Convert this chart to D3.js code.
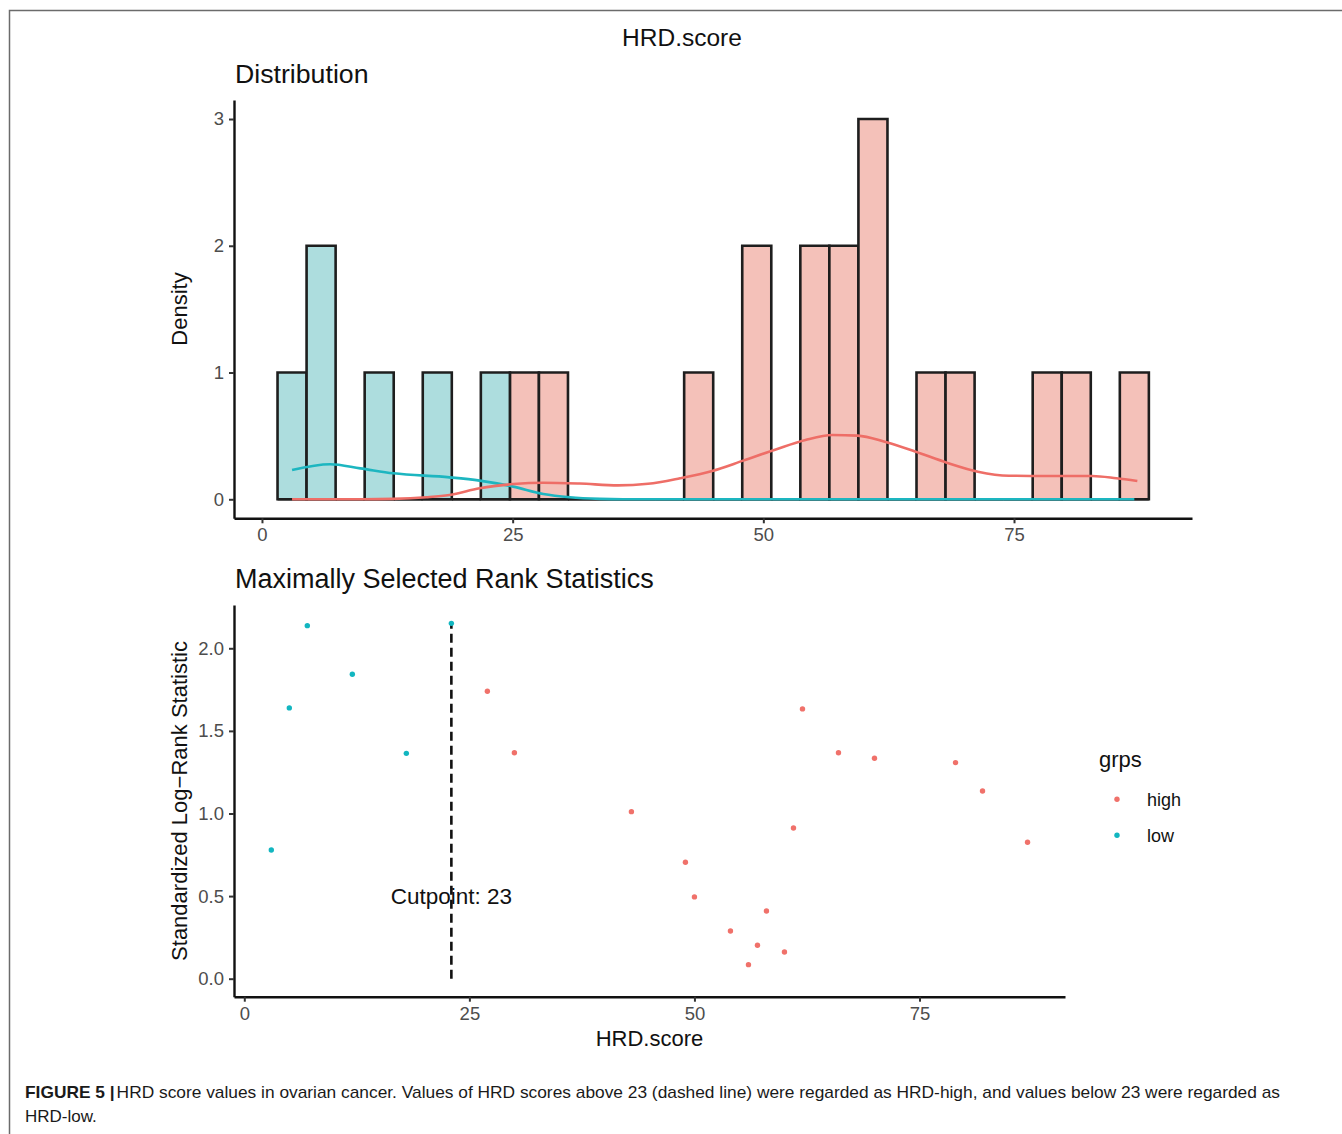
<!DOCTYPE html>
<html>
<head>
<meta charset="utf-8">
<script src="https://cdn.jsdelivr.net/npm/d3@7"></script>
<style>
body { margin: 0; background: #fff; }
text { font-family: "Liberation Sans", Arial, Helvetica, sans-serif; }
</style>
</head>
<body>
<svg id="fig" width="1342" height="1134"></svg>
<script>
// scores per group, with the standardized log-rank statistic at each cutpoint
var lowScores = [3, 5, 7, 12, 18, 23]
var lowStats = [0.779, 1.639, 2.137, 1.843, 1.364, 2.151]
var highScores = [27, 30, 43, 49, 50, 54, 56, 57, 58, 60, 61, 62, 66, 70, 79, 82, 87]
var highStats = [1.740, 1.368, 1.011, 0.705, 0.495, 0.289, 0.085, 0.202, 0.410, 0.162, 0.912, 1.633, 1.368, 1.334, 1.308, 1.136, 0.826]
var CUTPOINT = 23
var BINS = 30

// density curves
var lowDensX = [3, 6.8, 9.8, 13.1, 18.7, 21.7, 25.05, 28.05, 30.7, 33.7, 36, 87]
var lowDensY = [0.231, 0.276, 0.244, 0.205, 0.173, 0.147, 0.10, 0.042, 0.016, 0.003, 0, 0]
var highDensX = [3, 10, 13.1, 16.4, 18.7, 21.7, 25.05, 28.05, 31.7, 35.5, 38.5, 41.7, 44.9, 48.0, 51.1, 54.2, 56.9, 59.4, 62.1, 65.2, 68.3, 71.4, 74.5, 77.6, 82.8, 85.2, 87.3]
var highDensY = [0, 0, 0.003, 0.016, 0.034, 0.087, 0.12, 0.131, 0.124, 0.11, 0.122, 0.166, 0.223, 0.305, 0.389, 0.468, 0.507, 0.502, 0.454, 0.375, 0.289, 0.218, 0.186, 0.184, 0.184, 0.166, 0.144]

var xTicks = [0, 25, 50, 75]
var yTicksTop = [0, 1, 2, 3]
var yTicksBot = [0, 0.5, 1, 1.5, 2]
var groupNames = ["high", "low"]

var COL = {
  high: {fill: "#F4C1B9", line: "#EE6E67", point: "#F0716A"},
  low: {fill: "#ADDDDE", line: "#1DB6C0", point: "#12B6C0"}
}

var svg = d3.select("#fig")

// frame
svg.append("path")
  .attr("d", "M9.5,1134V10.5H1342")
  .attr("fill", "none")
  .attr("stroke", "#6b6b6b")
  .attr("stroke-width", 1.5)

svg.append("text").attr("x", 682).attr("y", 45.5)
  .attr("text-anchor", "middle").style("font-size", "24.5px").attr("fill", "#111")
  .text("HRD.score")

function styleAxis(g) {
  g.select(".domain").attr("stroke", "#111").attr("stroke-width", 2.4)
  g.selectAll(".tick line").attr("stroke", "#333").attr("stroke-width", 2)
  g.selectAll(".tick text").attr("fill", "#4d4d4d").style("font-size", "18.5px")
}

// ---------- Distribution ----------
var xTop = d3.scaleLinear().domain([-2.79, 92.75]).range([234, 1192])
var yTop = d3.scaleLinear().domain([-0.15, 3.15]).range([518.3, 100])

svg.append("text").attr("x", 235).attr("y", 82.5)
  .style("font-size", "26.7px").attr("fill", "#111").text("Distribution")

var allScores = lowScores.concat(highScores)
var lo = d3.min(allScores), hi = d3.max(allScores)
var bw = (hi - lo) / (BINS - 1)
var edges = d3.range(BINS + 1).map(function(i) { return lo - bw / 2 + i * bw })
var binner = d3.bin().domain([edges[0], edges[BINS]]).thresholds(edges.slice(1, BINS))

var scoresBy = {high: highScores, low: lowScores}
var bars = svg.append("g")
groupNames.forEach(function(name) {
  binner(scoresBy[name]).forEach(function(b) {
    var x0 = xTop(b.x0), x1 = xTop(b.x1), y0 = yTop(0), y1 = yTop(b.length)
    bars.append("path")
      .attr("d", "M" + x0 + "," + y0 + "V" + y1 + "H" + x1 + "V" + y0 + "Z")
      .attr("fill", COL[name].fill)
      .attr("stroke", "#1e1e1e")
      .attr("stroke-width", 2.6)
      .attr("stroke-linejoin", "miter")
  })
})

var dens = {
  low: d3.zip(lowDensX, lowDensY),
  high: d3.zip(highDensX, highDensY)
}
var densLine = d3.line()
  .x(function(d) { return xTop(d[0]) })
  .y(function(d) { return yTop(d[1]) })
  .curve(d3.curveMonotoneX)
;["low", "high"].forEach(function(name) {
  svg.append("path")
    .attr("d", densLine(dens[name]))
    .attr("fill", "none")
    .attr("stroke", COL[name].line)
    .attr("stroke-width", 2.6)
})

svg.append("g").attr("transform", "translate(0,518.3)")
  .call(d3.axisBottom(xTop).tickValues(xTicks).tickSize(5).tickSizeOuter(0).tickPadding(5))
  .call(styleAxis)
svg.append("g").attr("transform", "translate(234,0)")
  .call(d3.axisLeft(yTop).tickValues(yTicksTop).tickFormat(d3.format("d")).tickSize(5).tickSizeOuter(0).tickPadding(5))
  .call(styleAxis)

svg.append("text").attr("transform", "translate(187,309) rotate(-90)")
  .attr("text-anchor", "middle").style("font-size", "22px").attr("fill", "#111")
  .text("Density")

// ---------- Maximally Selected Rank Statistics ----------
var xBot = d3.scaleLinear().domain([-1.144, 91.16]).range([234, 1065])
var yBot = d3.scaleLinear().domain([-0.109, 2.262]).range([996.7, 605])

svg.append("text").attr("x", 235).attr("y", 588)
  .style("font-size", "27px").attr("fill", "#111").text("Maximally Selected Rank Statistics")

svg.append("text")
  .attr("x", xBot(CUTPOINT)).attr("y", yBot(0.5))
  .attr("dy", "0.36em")
  .attr("text-anchor", "middle").style("font-size", "22.5px").attr("fill", "#111")
  .text("Cutpoint: " + CUTPOINT)

var maxStat = d3.max(lowStats.concat(highStats))
svg.append("line")
  .attr("x1", xBot(CUTPOINT)).attr("x2", xBot(CUTPOINT))
  .attr("y1", yBot(0)).attr("y2", yBot(maxStat))
  .attr("stroke", "#111").attr("stroke-width", 2.6)
  .attr("stroke-dasharray", "9,5")

var pts = []
highScores.forEach(function(s, i) { pts.push({x: s, y: highStats[i], g: "high"}) })
lowScores.forEach(function(s, i) { pts.push({x: s, y: lowStats[i], g: "low"}) })
svg.append("g").selectAll("circle").data(pts).join("circle")
  .attr("cx", function(d) { return xBot(d.x) })
  .attr("cy", function(d) { return yBot(d.y) })
  .attr("r", 2.7)
  .attr("fill", function(d) { return COL[d.g].point })

svg.append("g").attr("transform", "translate(0,996.7)")
  .call(d3.axisBottom(xBot).tickValues(xTicks).tickSize(5).tickSizeOuter(0).tickPadding(5))
  .call(styleAxis)
svg.append("g").attr("transform", "translate(234,0)")
  .call(d3.axisLeft(yBot).tickValues(yTicksBot).tickFormat(d3.format(".1f")).tickSize(5).tickSizeOuter(0).tickPadding(5))
  .call(styleAxis)

svg.append("text").attr("transform", "translate(187,801) rotate(-90)")
  .attr("text-anchor", "middle").style("font-size", "22px").attr("fill", "#111")
  .text("Standardized Log\u2212Rank Statistic")
svg.append("text").attr("x", 649.5).attr("y", 1046)
  .attr("text-anchor", "middle").style("font-size", "22px").attr("fill", "#111")
  .text("HRD.score")

// legend
svg.append("text").attr("x", 1099).attr("y", 767)
  .style("font-size", "22px").attr("fill", "#111").text("grps")
groupNames.forEach(function(name, i) {
  svg.append("circle").attr("cx", 1117).attr("cy", 799.3 + i * 36).attr("r", 2.7)
    .attr("fill", COL[name].point)
  svg.append("text").attr("x", 1147).attr("y", 806 + i * 36)
    .style("font-size", "18px").attr("fill", "#111").text(name)
})

// caption
var cap = svg.append("text").attr("x", 25).attr("y", 1098)
  .style("font-size", "17px").attr("fill", "#1a1a1a")
  .attr("textLength", 1255).attr("lengthAdjust", "spacingAndGlyphs")
cap.append("tspan").style("font-weight", "bold").text("FIGURE 5 |")
cap.append("tspan").attr("dx", 2).text("HRD score values in ovarian cancer. Values of HRD scores above 23 (dashed line) were regarded as HRD-high, and values below 23 were regarded as")
svg.append("text").attr("x", 25).attr("y", 1122)
  .style("font-size", "17px").attr("fill", "#1a1a1a").text("HRD-low.")
</script>
</body>
</html>
